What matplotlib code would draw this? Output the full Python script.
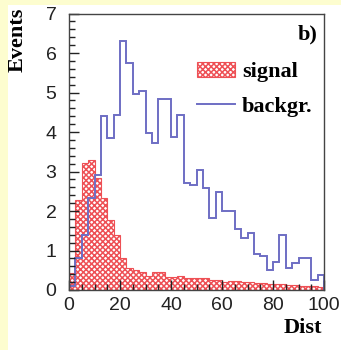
import numpy as np
import matplotlib
matplotlib.use("Agg")
import matplotlib.pyplot as plt
from matplotlib.patches import Rectangle
from matplotlib.ticker import MultipleLocator

# 40 bins of width 2.5 between 0 and 100
edges = np.linspace(0, 100, 41)

signal = [0.43, 2.28, 3.22, 3.28, 2.83, 2.33, 1.78, 1.40, 0.80, 0.55,
          0.50, 0.45, 0.35, 0.45, 0.46, 0.34, 0.34, 0.35, 0.30, 0.30,
          0.30, 0.30, 0.25, 0.25, 0.20, 0.22, 0.22, 0.21, 0.21, 0.17,
          0.17, 0.15, 0.15, 0.14, 0.13, 0.12, 0.11, 0.10, 0.09, 0.08]

background = [0.10, 0.80, 1.40, 2.33, 2.90, 4.40, 3.86, 4.44, 6.30, 5.75,
              4.95, 5.05, 3.98, 3.73, 4.84, 4.84, 3.88, 4.44, 2.70, 2.66,
              3.03, 2.59, 1.82, 2.48, 1.99, 1.99, 1.54, 1.31, 1.45, 0.91,
              0.85, 0.51, 0.72, 1.38, 0.55, 0.69, 0.80, 0.80, 0.25, 0.38]

plt.rcParams['hatch.linewidth'] = 1.1
red = '#ee5055'
blue = '#6e6ec4'

fig = plt.figure(figsize=(3.41, 3.5), dpi=100)
fig.patch.set_facecolor('#fdfdcf')
# white pad inside the yellow border
fig.patches.append(Rectangle((8 / 341, 0), 1, 1 - 5 / 350, transform=fig.transFigure,
                             facecolor='white', edgecolor='none', zorder=-10))

ax = fig.add_axes([69 / 341, 1 - 290 / 350, (324 - 69) / 341, (290 - 13.5) / 350])
ax.set_facecolor('white')

ax.stairs(signal, edges, fill=True, hatch='xxxxxx', facecolor='white',
          edgecolor=red, linewidth=0.8, label='signal')
ax.stairs(background, edges, color=blue, linewidth=1.4, label='backgr.')

ax.set_xlim(0, 100)
ax.set_ylim(0, 7)
ax.xaxis.set_major_locator(MultipleLocator(20))
ax.xaxis.set_minor_locator(MultipleLocator(5))
ax.yaxis.set_major_locator(MultipleLocator(1))
ax.yaxis.set_minor_locator(MultipleLocator(0.2))
ax.tick_params(which='both', direction='in', labelsize=14, colors='#222222')
ax.tick_params(which='major', length=7, width=1)
ax.tick_params(which='minor', length=4, width=1)
ax.tick_params(axis='y', pad=9)
ax.tick_params(axis='x', pad=5)
for lab in ax.get_xticklabels() + ax.get_yticklabels():
    lab.set_family('Liberation Sans')
for s in ax.spines.values():
    s.set_color('#444444')
    s.set_linewidth(1)

serif = dict(family='Liberation Serif', weight='bold', size=16)
fig.text(18 / 341, 1 - 8 / 350, 'Events', rotation=90, ha='center', va='top', **serif)
fig.text(322 / 341, 1 - 318 / 350, 'Dist', ha='right', va='top', **serif)
ax.text(0.975, 0.96, 'b)', transform=ax.transAxes, ha='right', va='top', **serif)

ax.legend(loc='upper left', bbox_to_anchor=(0.5, 0.825), frameon=False,
          prop={'family': 'Liberation Serif', 'weight': 'bold', 'size': 16},
          handlelength=1.75, handleheight=0.7, handletextpad=0.3,
          labelspacing=0.62, borderaxespad=0, borderpad=0)

fig.savefig('out.png', dpi=100, facecolor=fig.get_facecolor())
